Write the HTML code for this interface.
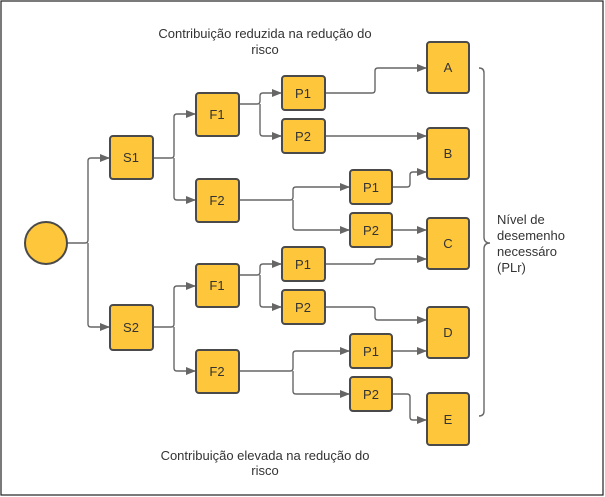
<!DOCTYPE html>
<html><head><style>
body{margin:0;background:#fff;}
svg{display:block;font-family:"Liberation Sans",sans-serif;}
.b{fill:#fdc63b;stroke:#4a4a4a;stroke-width:2;}
.l{fill:none;stroke:#666;stroke-width:1.4;}
.t{font-size:13px;fill:#333;text-anchor:middle;}
</style></head><body>
<svg width="605" height="497" viewBox="0 0 605 497">
<defs><marker id="a" markerWidth="10" markerHeight="8" refX="9" refY="4" orient="auto" markerUnits="userSpaceOnUse"><path d="M0,0L10,4L0,8z" fill="#666"/></marker></defs>
<rect x="1" y="1" width="602" height="494" fill="none" stroke="#222" stroke-width="1.2"/>
<g class="l">
<path d="M67,243H85q3,0 3,-3V161q0,-3 3,-3H109" marker-end="url(#a)"/>
<path d="M88,243V324q0,3 3,3H109" marker-end="url(#a)"/>
<path d="M153,158H171q3,0 3,-3V117q0,-3 3,-3H195" marker-end="url(#a)"/>
<path d="M174,158V197q0,3 3,3H195" marker-end="url(#a)"/>
<path d="M153,327H171q3,0 3,-3V289q0,-3 3,-3H195" marker-end="url(#a)"/>
<path d="M174,327V368q0,3 3,3H195" marker-end="url(#a)"/>
<path d="M239,104H257q3,0 3,-3V96q0,-3 3,-3H281" marker-end="url(#a)"/>
<path d="M260,104V133q0,3 3,3H281" marker-end="url(#a)"/>
<path d="M239,200H290q3,0 3,-3V190q0,-3 3,-3H349" marker-end="url(#a)"/>
<path d="M293,200V227q0,3 3,3H349" marker-end="url(#a)"/>
<path d="M239,275H257q3,0 3,-3V267q0,-3 3,-3H281" marker-end="url(#a)"/>
<path d="M260,275V304q0,3 3,3H281" marker-end="url(#a)"/>
<path d="M239,371H290q3,0 3,-3V354q0,-3 3,-3H349" marker-end="url(#a)"/>
<path d="M293,371V391q0,3 3,3H349" marker-end="url(#a)"/>
<path d="M325,93H372q3,0 3,-3V71q0,-3 3,-3H426" marker-end="url(#a)"/>
<path d="M325,136H426" marker-end="url(#a)"/>
<path d="M392,187H407q3,0 3,-3V175q0,-3 3,-3H426" marker-end="url(#a)"/>
<path d="M392,230H426" marker-end="url(#a)"/>
<path d="M325,264H372q3,0 3,-3V262q0,-3 3,-3H426" marker-end="url(#a)"/>
<path d="M325,307H372q3,0 3,3V317q0,3 3,3H426" marker-end="url(#a)"/>
<path d="M392,351H426" marker-end="url(#a)"/>
<path d="M392,394H407q3,0 3,3V417q0,3 3,3H426" marker-end="url(#a)"/>
<path d="M479,68q5,0 5,5V237q0,6 6,6q-6,0 -6,6V411q0,5 -5,5"/>
</g>
<circle class="b" cx="46" cy="243" r="21"/>
<g>
<rect class="b" x="110" y="136" width="43" height="43" rx="3"/>
<rect class="b" x="110" y="305" width="43" height="45" rx="3"/>
<rect class="b" x="196" y="93" width="43" height="43" rx="3"/>
<rect class="b" x="196" y="179" width="43" height="43" rx="3"/>
<rect class="b" x="196" y="264" width="43" height="43" rx="3"/>
<rect class="b" x="196" y="350" width="43" height="43" rx="3"/>
<rect class="b" x="282" y="76" width="43" height="34" rx="3"/>
<rect class="b" x="282" y="119" width="43" height="34" rx="3"/>
<rect class="b" x="350" y="170" width="42" height="34" rx="3"/>
<rect class="b" x="350" y="213" width="42" height="34" rx="3"/>
<rect class="b" x="282" y="247" width="43" height="34" rx="3"/>
<rect class="b" x="282" y="290" width="43" height="34" rx="3"/>
<rect class="b" x="350" y="334" width="42" height="34" rx="3"/>
<rect class="b" x="350" y="377" width="42" height="34" rx="3"/>
<rect class="b" x="427" y="42" width="42" height="51" rx="3"/>
<rect class="b" x="427" y="128" width="42" height="51" rx="3"/>
<rect class="b" x="427" y="218" width="42" height="51" rx="3"/>
<rect class="b" x="427" y="307" width="42" height="51" rx="3"/>
<rect class="b" x="427" y="393" width="42" height="52" rx="3"/>
</g>
<g class="t">
<text x="131" y="162">S1</text><text x="131" y="332">S2</text>
<text x="217" y="119">F1</text><text x="217" y="205">F2</text>
<text x="217" y="290">F1</text><text x="217" y="376">F2</text>
<text x="303" y="98">P1</text><text x="303" y="141">P2</text>
<text x="371" y="192">P1</text><text x="371" y="235">P2</text>
<text x="303" y="269">P1</text><text x="303" y="312">P2</text>
<text x="371" y="356">P1</text><text x="371" y="399">P2</text>
<text x="448" y="72">A</text><text x="448" y="158">B</text>
<text x="448" y="248">C</text><text x="448" y="337">D</text>
<text x="448" y="424">E</text>
<text x="265" y="38">Contribuição reduzida na redução do</text>
<text x="265" y="54">risco</text>
<text x="265" y="460">Contribuição elevada na redução do</text>
<text x="265" y="475">risco</text>
</g>
<g style="font-size:13px;fill:#333">
<text x="497" y="224">Nível de</text>
<text x="497" y="240">desemenho</text>
<text x="497" y="256">necessáro</text>
<text x="497" y="272">(PLr)</text>
</g>
</svg>
</body></html>
